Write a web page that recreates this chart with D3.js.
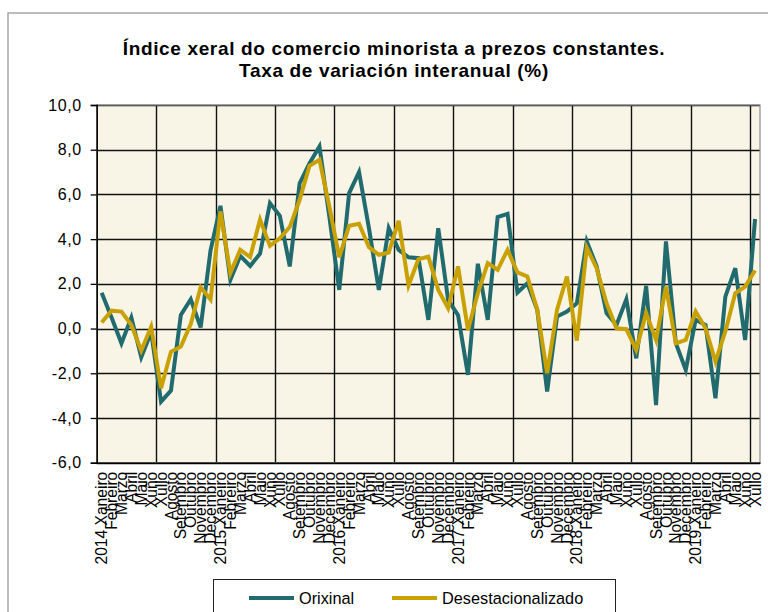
<!DOCTYPE html>
<html>
<head>
<meta charset="utf-8">
<script src="https://d3js.org/d3.v7.min.js"></script>
<style>
  body { margin: 0; background: #fff; }
  text { font-family: "Liberation Sans", Arial, sans-serif; fill: #000; }
</style>
</head>
<body>
<div id="chart"></div>
<script>
// months and years on the category axis
var monthNames = ["Xaneiro", "Febreiro", "Marzo", "Abril", "Maio", "Xuño",
                  "Xullo", "Agosto", "Setembro", "Outubro", "Novembro", "Decembro"];
var years = [2014, 2015, 2016, 2017, 2018, 2019];
var lastMonth = 6; // 2019 Xullo

// interannual rate (%)
var orixinal = [
  1.6, 0.5, -0.66, 0.49, -1.28, -0.15, -3.27, -2.78, 0.61, 1.31, 0.05, 3.5,
  5.49, 2.18, 3.25, 2.8, 3.35, 5.61, 5.04, 2.78, 6.5, 7.4, 8.15, 5.0,
  1.73, 6.06, 7.0, 4.49, 1.73, 4.49, 3.52, 3.19, 3.15, 0.39, 4.49, 1.28,
  0.6, -2.07, 2.9, 0.39, 4.99, 5.13, 1.61, 2.03, 0.84, -2.82, 0.54, 0.76,
  1.13, 3.9, 2.78, 0.69, 0.16, 1.31, -1.33, 1.91, -3.42, 3.9, -0.66, -1.85,
  0.39, 0.16, -3.12, 1.43, 2.7, -0.51, 4.9
];
var desestacionalizado = [
  0.27, 0.8, 0.76, 0.16, -0.99, 0.08, -2.67, -1.04, -0.81, 0.2, 1.85, 1.3,
  5.24, 2.48, 3.52, 3.2, 4.88, 3.7, 4.04, 4.54, 5.76, 7.28, 7.55, 5.46,
  3.19, 4.6, 4.69, 3.64, 3.3, 3.4, 4.82, 1.93, 3.1, 3.22, 1.73, 0.91,
  2.78, -0.06, 1.58, 2.93, 2.63, 3.52, 2.51, 2.33, 0.84, -2.0, 0.84, 2.33,
  -0.54, 3.62, 2.7, 1.13, 0.01, -0.03, -0.96, 0.69, -0.51, 1.88, -0.66, -0.51,
  0.76, 0.01, -1.48, -0.13, 1.58, 1.88, 2.6
];
var yTicks = [-6, -4, -2, 0, 2, 4, 6, 8, 10];
var seriesNames = ["Orixinal", "Desestacionalizado"];
var colors = ["#216a6e", "#c9a102"];

// build category labels
var categories = [];
years.forEach(function(yr, yi) {
  monthNames.forEach(function(m, mi) {
    if (yi == years.length - 1 && mi > lastMonth) return;
    categories.push(mi == 0 ? yr + " " + m : m);
  });
});

var width = 768, height = 612;
var plot = { left: 96.7, right: 760, top: 105, bottom: 462.7 };

var svg = d3.select("#chart").append("svg")
  .attr("width", width)
  .attr("height", height);

// outer chart border
svg.append("path")
  .attr("d", "M8,613 V13 H769")
  .attr("fill", "none")
  .attr("stroke", "#a8a8a8")
  .attr("stroke-width", 1.5);

var x = d3.scaleBand()
  .domain(d3.range(categories.length))
  .range([plot.left, plot.right])
  .padding(0);

var y = d3.scaleLinear()
  .domain([-6, 10])
  .range([plot.bottom, plot.top]);

// plot background
svg.append("rect")
  .attr("x", plot.left)
  .attr("y", plot.top)
  .attr("width", plot.right - plot.left)
  .attr("height", plot.bottom - plot.top)
  .attr("fill", "#f8f5e6");

// horizontal gridlines
svg.append("g").selectAll("line")
  .data(yTicks)
  .enter().append("line")
  .attr("x1", plot.left)
  .attr("x2", plot.right)
  .attr("y1", function(d) { return Math.round(y(d)) + 0.5; })
  .attr("y2", function(d) { return Math.round(y(d)) + 0.5; })
  .attr("stroke", "#111")
  .attr("stroke-width", 1.4);

// vertical gridlines every 6 categories
svg.append("g").selectAll("line")
  .data(d3.range(6, categories.length, 6))
  .enter().append("line")
  .attr("x1", function(d) { return Math.round(x(d)) + 0.5; })
  .attr("x2", function(d) { return Math.round(x(d)) + 0.5; })
  .attr("y1", plot.top)
  .attr("y2", plot.bottom)
  .attr("stroke", "#111")
  .attr("stroke-width", 1.4);

// plot border
svg.append("rect")
  .attr("x", plot.left)
  .attr("y", plot.top)
  .attr("width", plot.right - plot.left)
  .attr("height", plot.bottom - plot.top)
  .attr("fill", "none")
  .attr("stroke", "#8c8c8c")
  .attr("stroke-width", 1.2);

// y axis
var yAxis = svg.append("g")
  .attr("transform", "translate(" + plot.left + ",0)")
  .call(d3.axisLeft(y)
    .tickValues(yTicks)
    .tickSize(6)
    .tickPadding(9)
    .tickFormat(function(d) { return d.toFixed(1).replace(".", ","); }));
yAxis.select(".domain").attr("stroke", "#000").attr("stroke-width", 1.5);
yAxis.selectAll("line").attr("stroke", "#000").attr("stroke-width", 1.3);
yAxis.selectAll("text")
  .attr("font-size", 16)
  .attr("letter-spacing", "0.6px")
  .style("font-family", "Liberation Sans, Arial, sans-serif");

// x axis with rotated month labels
var xAxis = svg.append("g")
  .attr("transform", "translate(0," + plot.bottom + ")")
  .call(d3.axisBottom(x)
    .tickSize(0)
    .tickFormat(function(i) { return categories[i]; }));
xAxis.select(".domain").attr("stroke", "#000").attr("stroke-width", 1.5);
xAxis.selectAll("text")
  .attr("font-size", 15.6)
  .attr("x", -9)
  .attr("y", 0)
  .attr("dy", "0.36em")
  .attr("transform", "rotate(-90)")
  .style("text-anchor", "end")
  .style("font-family", "Liberation Sans, Arial, sans-serif");

// lines
var line = d3.line()
  .x(function(d, i) { return x(i) + x.bandwidth() / 2; })
  .y(function(d) { return y(d); });

[orixinal, desestacionalizado].forEach(function(series, k) {
  svg.append("path")
    .datum(series)
    .attr("d", line)
    .attr("fill", "none")
    .attr("stroke", colors[k])
    .attr("stroke-width", 4)
    .attr("stroke-linejoin", "miter");
});

// title
var title = svg.append("text")
  .attr("x", 394)
  .attr("text-anchor", "middle")
  .attr("font-weight", "bold")
  .attr("font-size", 19)
  .attr("letter-spacing", "0.65px");
title.append("tspan").attr("x", 394).attr("y", 55)
  .text("Índice xeral do comercio minorista a prezos constantes.");
title.append("tspan").attr("x", 394).attr("y", 77)
  .text("Taxa de variación interanual (%)");

// legend
var legend = svg.append("g");
legend.append("rect")
  .attr("x", 213.5)
  .attr("y", 579.5)
  .attr("width", 402)
  .attr("height", 50)
  .attr("fill", "#fff")
  .attr("stroke", "#222")
  .attr("stroke-width", 1);

var legendX = [249, 392];
seriesNames.forEach(function(name, k) {
  legend.append("line")
    .attr("x1", legendX[k])
    .attr("x2", legendX[k] + 45)
    .attr("y1", 598)
    .attr("y2", 598)
    .attr("stroke", colors[k])
    .attr("stroke-width", 4);
  legend.append("text")
    .attr("x", legendX[k] + 50)
    .attr("y", 603.5)
    .attr("font-size", 16.3)
    .text(name);
});
</script>
</body>
</html>
